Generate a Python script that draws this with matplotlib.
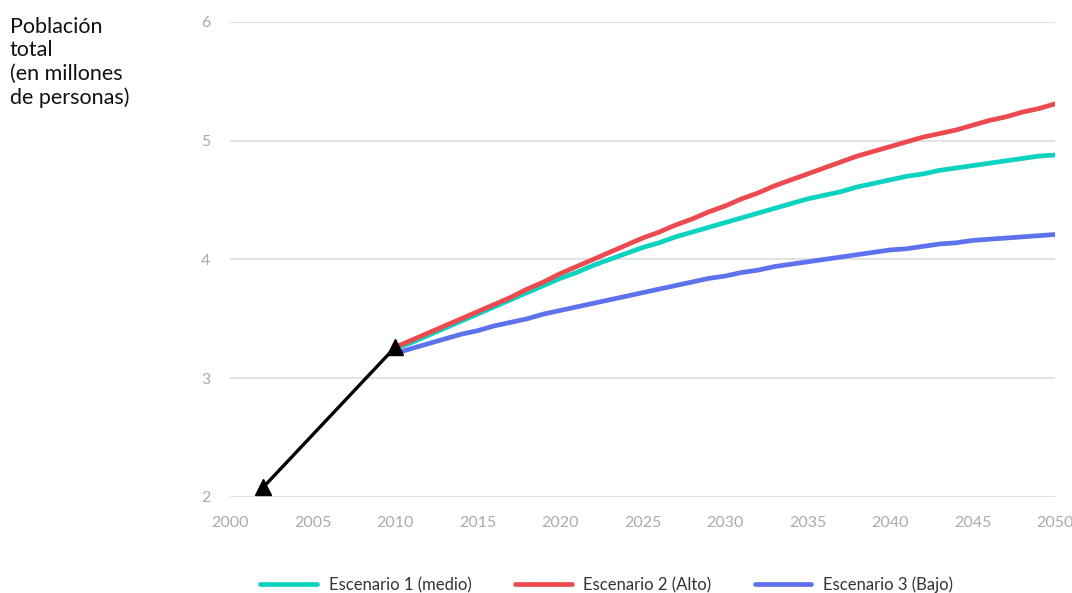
import matplotlib
matplotlib.use("Agg")
import matplotlib.pyplot as plt

plt.rcParams['font.family'] = ['Lato', 'DejaVu Sans']

# Población total por escenario (millones de personas)
years = list(range(2010, 2051))
medio = [3.25, 3.30, 3.36, 3.42, 3.48, 3.54, 3.60, 3.66, 3.72, 3.78,
         3.84, 3.89, 3.95, 4.00, 4.05, 4.10, 4.14, 4.19, 4.23, 4.27,
         4.31, 4.35, 4.39, 4.43, 4.47, 4.51, 4.54, 4.57, 4.61, 4.64,
         4.67, 4.70, 4.72, 4.75, 4.77, 4.79, 4.81, 4.83, 4.85, 4.87, 4.88]
alto = [3.26, 3.32, 3.38, 3.44, 3.50, 3.56, 3.62, 3.68, 3.75, 3.81,
        3.88, 3.94, 4.00, 4.06, 4.12, 4.18, 4.23, 4.29, 4.34, 4.40,
        4.45, 4.51, 4.56, 4.62, 4.67, 4.72, 4.77, 4.82, 4.87, 4.91,
        4.95, 4.99, 5.03, 5.06, 5.09, 5.13, 5.17, 5.20, 5.24, 5.27, 5.31]
bajo = [3.21, 3.25, 3.29, 3.33, 3.37, 3.40, 3.44, 3.47, 3.50, 3.54,
        3.57, 3.60, 3.63, 3.66, 3.69, 3.72, 3.75, 3.78, 3.81, 3.84,
        3.86, 3.89, 3.91, 3.94, 3.96, 3.98, 4.00, 4.02, 4.04, 4.06,
        4.08, 4.09, 4.11, 4.13, 4.14, 4.16, 4.17, 4.18, 4.19, 4.20, 4.21]

# flecha negra (dos extremos con triangulos)
arrow_x = [2002, 2010]
arrow_y = [2.08, 3.26]

x_ticks = [2000, 2005, 2010, 2015, 2020, 2025, 2030, 2035, 2040, 2045, 2050]
y_ticks = [2, 3, 4, 5, 6]

fig = plt.figure(figsize=(10.72, 5.93), dpi=100)
ax = fig.add_axes([0.2146, 0.162, 0.7696, 0.801])

ax.plot(years, medio, color='#0cd3bf', lw=3.4, solid_capstyle='round',
        label='Escenario 1 (medio)', zorder=3)
ax.plot(years, alto, color='#ec4a4f', lw=3.4, solid_capstyle='round',
        label='Escenario 2 (Alto)', zorder=4)
ax.plot(years, bajo, color='#5e72ee', lw=3.4, solid_capstyle='round',
        label='Escenario 3 (Bajo)', zorder=3)

ax.plot(arrow_x, arrow_y, color='black', lw=2.4, zorder=5)
ax.plot(arrow_x, arrow_y, ls='none', marker='^', ms=12, color='black', zorder=6)

ax.set_xlim(2000, 2050)
ax.set_ylim(2, 6)
ax.set_xticks(x_ticks)
ax.set_yticks(y_ticks)
ax.grid(axis='y', color='#dddddd', lw=1.2)
ax.set_axisbelow(True)
for s in ax.spines.values():
    s.set_visible(False)
ax.tick_params(length=0, colors='#aaaaaa', labelsize=11.5)
ax.tick_params(axis='x', pad=14)
ax.tick_params(axis='y', pad=14)

fig.text(0.009, 0.972, 'Población\ntotal\n(en millones\nde personas)',
         ha='left', va='top', fontsize=15.5, color='#111111', linespacing=1.22)

leg = fig.legend(loc='center', bbox_to_anchor=(0.566, 0.014), ncol=3,
                 frameon=False, fontsize=12, handlelength=3.4,
                 columnspacing=2.6, handletextpad=0.7)
for t in leg.get_texts():
    t.set_color('#333333')

fig.savefig('out.png', dpi=100)
